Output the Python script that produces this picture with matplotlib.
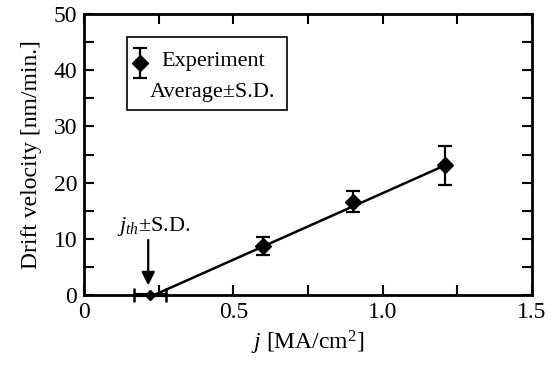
import matplotlib
matplotlib.use('Agg')
import matplotlib.pyplot as plt
from matplotlib.ticker import MultipleLocator, FuncFormatter
from matplotlib.patches import Rectangle

plt.rcParams['font.family'] = 'Liberation Serif'
plt.rcParams['mathtext.fontset'] = 'custom'
plt.rcParams['mathtext.rm'] = 'Liberation Serif'
plt.rcParams['mathtext.it'] = 'Liberation Serif:italic'

# experiment data
j = [0.60, 0.90, 1.21]
v = [8.7, 16.6, 23.1]
v_sd = [1.6, 1.9, 3.5]

# threshold current density and its S.D.
j_th = 0.22
j_th_sd = 0.053

# fitted line: from threshold to last point
fit_x = [0.235, 1.21]
fit_y = [0.0, 23.1]

fig = plt.figure(figsize=(5.55, 3.67), dpi=100)
ax = fig.add_axes([84/555, 1 - 295/367, 448/555, 281/367])

ax.plot(fit_x, fit_y, color='black', lw=1.8, zorder=2)
ax.errorbar(j, v, yerr=v_sd, fmt='D', color='black', ms=8, elinewidth=1.6,
            capsize=5, capthick=1.6, zorder=3)
ax.errorbar([j_th], [0], xerr=[j_th_sd], fmt='D', color='black', ms=5,
            elinewidth=3, capsize=5, capthick=1.8, clip_on=False, zorder=4)

# threshold arrow + label
ax.annotate('', xy=(0.215, 1.2), xytext=(0.215, 10.3),
            arrowprops=dict(arrowstyle='-|>', color='black', lw=1.6,
                            mutation_scale=20))
ax.text(0.11, 11.4, r'$j_{th}$±S.D.', fontsize=16)

ax.set_xlim(0, 1.5)
ax.set_ylim(0, 50)
ax.xaxis.set_major_locator(MultipleLocator(0.5))
ax.xaxis.set_minor_locator(MultipleLocator(0.25))
ax.yaxis.set_major_locator(MultipleLocator(10))
ax.yaxis.set_minor_locator(MultipleLocator(5))
ax.xaxis.set_major_formatter(FuncFormatter(
    lambda x, p: '0' if x == 0 else f'{x:.1f}'))
ax.tick_params(which='both', direction='in', top=True, right=True,
               labelsize=17, width=1.5, length=7, pad=5)
for s in ax.spines.values():
    s.set_linewidth(2)

ax.set_xlabel(r'$j$ [MA/cm$^2$]', fontsize=17, labelpad=4)
ax.set_ylabel('Drift velocity [nm/min.]', fontsize=17, labelpad=8)

# legend box drawn by hand (two lines of text)
ax.add_patch(Rectangle((0.145, 33.0), 0.535, 12.9, fill=False,
                       edgecolor='black', lw=1.2, zorder=5))
ax.errorbar([0.187], [41.3], yerr=[2.7], fmt='D', color='black', ms=8,
            elinewidth=1.6, capsize=5, capthick=1.6)
ax.text(0.26, 41.6, 'Experiment', fontsize=16, va='center')
ax.text(0.22, 36.0, 'Average±S.D.', fontsize=16, va='center')

fig.savefig('out.png', dpi=100)
